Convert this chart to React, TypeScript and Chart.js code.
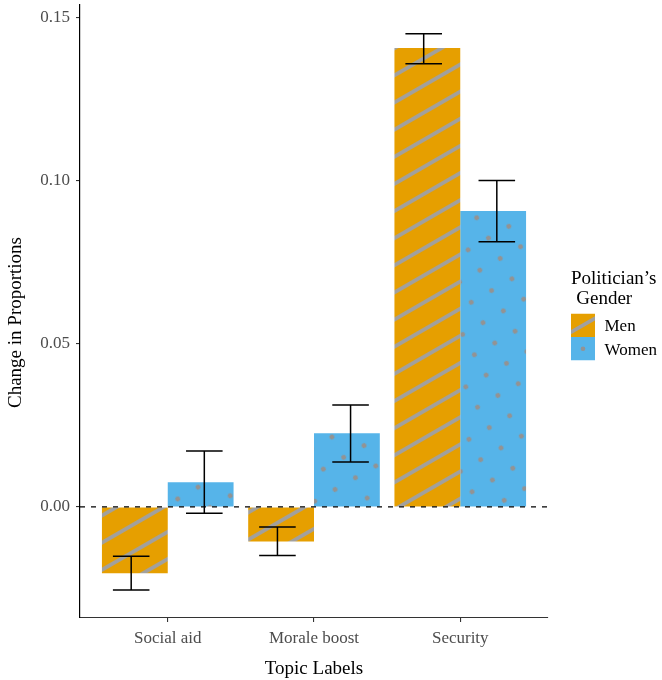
import React, { useEffect, useRef } from 'react';
import { Chart, registerables } from 'chart.js';

Chart.register(...registerables);

const categories = ['Social aid', 'Morale boost', 'Security'];
const seriesNames = ['Men', 'Women'];
const menValues = [-0.0203, -0.0106, 0.1405];
const womenValues = [0.0076, 0.0226, 0.0906];
const menLower = [-0.0254, -0.0149, 0.1357];
const menUpper = [-0.0151, -0.0061, 0.1449];
const womenLower = [-0.0019, 0.0138, 0.0812];
const womenUpper = [0.0171, 0.0312, 0.1];
const yTicks = [0, 0.05, 0.1, 0.15];
const legendTitle = ['Politician\u2019s', ' Gender'];
const xTitle = 'Topic Labels';
const yTitle = 'Change in Proportions';

const MEN_COLOR = '#E69F00';
const WOMEN_COLOR = '#56B4E9';
const PATTERN_GRAY = '#a0a0a0';
const DOT_GRAY = '#939393';
const FONT = '"Liberation Serif", "Times New Roman", serif';

function makeStripePattern(bg: string): CanvasPattern | string {
  const S = 24;
  const c = document.createElement('canvas');
  c.width = S;
  c.height = S;
  const g = c.getContext('2d');
  if (!g) return bg;
  g.fillStyle = bg;
  g.fillRect(0, 0, S, S);
  g.fillStyle = PATTERN_GRAY;
  g.fillRect(0, S / 2 - 1.9, S, 3.8);
  const p = g.createPattern(c, 'repeat');
  if (!p) return bg;
  p.setTransform(new DOMMatrix().translate(0, -9).rotate(-30).scale(23.5 / 24));
  return p;
}

function makeDotPattern(bg: string): CanvasPattern | string {
  const S = 24;
  const c = document.createElement('canvas');
  c.width = S;
  c.height = S;
  const g = c.getContext('2d');
  if (!g) return bg;
  g.fillStyle = bg;
  g.fillRect(0, 0, S, S);
  g.fillStyle = DOT_GRAY;
  g.beginPath();
  g.arc(S / 2, S / 2, 2.5, 0, Math.PI * 2);
  g.fill();
  const p = g.createPattern(c, 'repeat');
  if (!p) return bg;
  p.setTransform(new DOMMatrix().translate(4.9, -11.9).rotate(-30).scale(23.5 / 24));
  return p;
}

const errorBarPlugin = {
  id: 'errorBarsAndZero',
  afterDatasetsDraw(chart: any) {
    const { ctx, chartArea } = chart;
    const x = chart.scales.x;
    const y = chart.scales.y;
    ctx.save();
    // dashed zero line
    const y0 = y.getPixelForValue(0);
    ctx.strokeStyle = '#000';
    ctx.lineWidth = 1.3;
    ctx.setLineDash([5, 6]);
    ctx.beginPath();
    ctx.moveTo(chartArea.left, y0);
    ctx.lineTo(chartArea.right, y0);
    ctx.stroke();
    ctx.setLineDash([]);

    const unit = x.getPixelForValue(1) - x.getPixelForValue(0);
    const half = unit * 0.125;
    const groups = [
      { lo: menLower, hi: menUpper, off: -0.25 },
      { lo: womenLower, hi: womenUpper, off: 0.25 },
    ];
    ctx.lineWidth = 1.5;
    ctx.strokeStyle = '#000';
    groups.forEach((g) => {
      categories.forEach((_, i) => {
        const cx = x.getPixelForValue(i + g.off);
        const yl = y.getPixelForValue(g.lo[i]);
        const yh = y.getPixelForValue(g.hi[i]);
        ctx.beginPath();
        ctx.moveTo(cx, yl);
        ctx.lineTo(cx, yh);
        ctx.moveTo(cx - half, yl);
        ctx.lineTo(cx + half, yl);
        ctx.moveTo(cx - half, yh);
        ctx.lineTo(cx + half, yh);
        ctx.stroke();
      });
    });
    ctx.restore();
  },
  afterDraw(chart: any) {
    const { ctx, chartArea } = chart;
    ctx.save();
    // y axis title
    ctx.fillStyle = '#000';
    ctx.font = `19px ${FONT}`;
    ctx.translate(16.3, (chartArea.top + chartArea.bottom) / 2 + 11);
    ctx.rotate(-Math.PI / 2);
    ctx.textAlign = 'center';
    ctx.textBaseline = 'middle';
    ctx.fillText(yTitle, 0, 0);
    ctx.restore();

    // legend
    ctx.save();
    const lx = chartArea.right + 23;
    ctx.fillStyle = '#000';
    ctx.font = `19px ${FONT}`;
    ctx.textAlign = 'left';
    ctx.textBaseline = 'alphabetic';
    ctx.fillText(legendTitle[0], lx, 283.5);
    ctx.fillText(legendTitle[1], lx + 0.5, 303.5);

    const boxX = lx;
    const boxW = 24;
    const boxH = 23.5;
    const tops = [313.5, 337];
    const colors = [MEN_COLOR, WOMEN_COLOR];
    seriesNames.forEach((name, i) => {
      const top = tops[i];
      ctx.save();
      ctx.beginPath();
      ctx.rect(boxX, top, boxW, boxH);
      ctx.clip();
      ctx.fillStyle = colors[i];
      ctx.fillRect(boxX, top, boxW, boxH);
      const cx = boxX + boxW / 2;
      const cy = top + boxH / 2;
      if (i === 0) {
        ctx.strokeStyle = PATTERN_GRAY;
        ctx.lineWidth = 3.8;
        const dx = 20 * Math.cos(Math.PI / 6);
        const dy = 20 * Math.sin(Math.PI / 6);
        ctx.beginPath();
        ctx.moveTo(cx - dx, cy + dy);
        ctx.lineTo(cx + dx, cy - dy);
        ctx.stroke();
      } else {
        ctx.fillStyle = DOT_GRAY;
        ctx.beginPath();
        ctx.arc(cx, cy, 2.3, 0, Math.PI * 2);
        ctx.fill();
      }
      ctx.restore();
      ctx.fillStyle = '#000';
      ctx.font = `17px ${FONT}`;
      ctx.fillText(name, boxX + 33.5, top + 17.5);
    });
    ctx.restore();
  },
};

export default function App() {
  const canvasRef = useRef<HTMLCanvasElement | null>(null);

  useEffect(() => {
    document.body.style.margin = '0';
    const canvas = canvasRef.current;
    if (!canvas) return;
    const menPattern = makeStripePattern(MEN_COLOR);
    const womenPattern = makeDotPattern(WOMEN_COLOR);

    const chart = new Chart(canvas, {
      type: 'bar',
      data: {
        datasets: [
          {
            label: seriesNames[0],
            data: menValues.map((v, i) => ({ x: i, y: v })),
            backgroundColor: menPattern as any,
            borderWidth: 0,
            categoryPercentage: 0.9,
            barPercentage: 1,
          },
          {
            label: seriesNames[1],
            data: womenValues.map((v, i) => ({ x: i, y: v })),
            backgroundColor: womenPattern as any,
            borderWidth: 0,
            categoryPercentage: 0.9,
            barPercentage: 1,
          },
        ],
      },
      options: {
        animation: false,
        responsive: true,
        maintainAspectRatio: false,
        layout: { padding: { top: 5, right: 114, bottom: 0, left: 0 } },
        plugins: {
          legend: { display: false },
          tooltip: { enabled: false },
        },
        scales: {
          x: {
            type: 'linear',
            min: -0.6,
            max: 2.6,
            offset: false,
            afterBuildTicks: (s: any) => {
              s.ticks = categories.map((_, i) => ({ value: i }));
            },
            afterFit: (s: any) => {
              s.height = 62;
              s.paddingLeft = 0;
              s.paddingRight = 0;
            },
            ticks: {
              autoSkip: false,
              maxRotation: 0,
              padding: 6,
              color: '#4D4D4D',
              font: { family: FONT, size: 17 },
              callback: (v: any) => categories[Math.round(Number(v))] ?? '',
            },
            grid: {
              offset: false,
              drawOnChartArea: false,
              drawTicks: true,
              tickLength: 4,
              color: '#333333',
              lineWidth: 1.1,
            },
            border: { display: true, color: '#333333', width: 1.1 },
            title: {
              display: true,
              text: xTitle,
              color: '#000',
              font: { family: FONT, size: 19, lineHeight: 1 },
              padding: { top: 0, bottom: 1 },
            },
          } as any,
          y: {
            type: 'linear',
            min: -0.034,
            max: 0.1537,
            afterBuildTicks: (s: any) => {
              s.ticks = yTicks.map((v) => ({ value: v }));
            },
            afterFit: (s: any) => {
              s.width = 80;
              s.paddingTop = 0;
              s.paddingBottom = 0;
            },
            ticks: {
              padding: 6,
              color: '#4D4D4D',
              font: { family: FONT, size: 17 },
              callback: (v: any) => Number(v).toFixed(2),
            },
            grid: {
              drawOnChartArea: false,
              drawTicks: true,
              tickLength: 4,
              color: '#333333',
              lineWidth: 1.1,
            },
            border: { display: true, color: '#000', width: 1.2 },
          } as any,
        },
      },
      plugins: [errorBarPlugin],
    });

    return () => {
      chart.destroy();
    };
  }, []);

  return (
    <div style={{ width: '662px', height: '680px', position: 'relative' }}>
      <canvas ref={canvasRef} />
    </div>
  );
}
